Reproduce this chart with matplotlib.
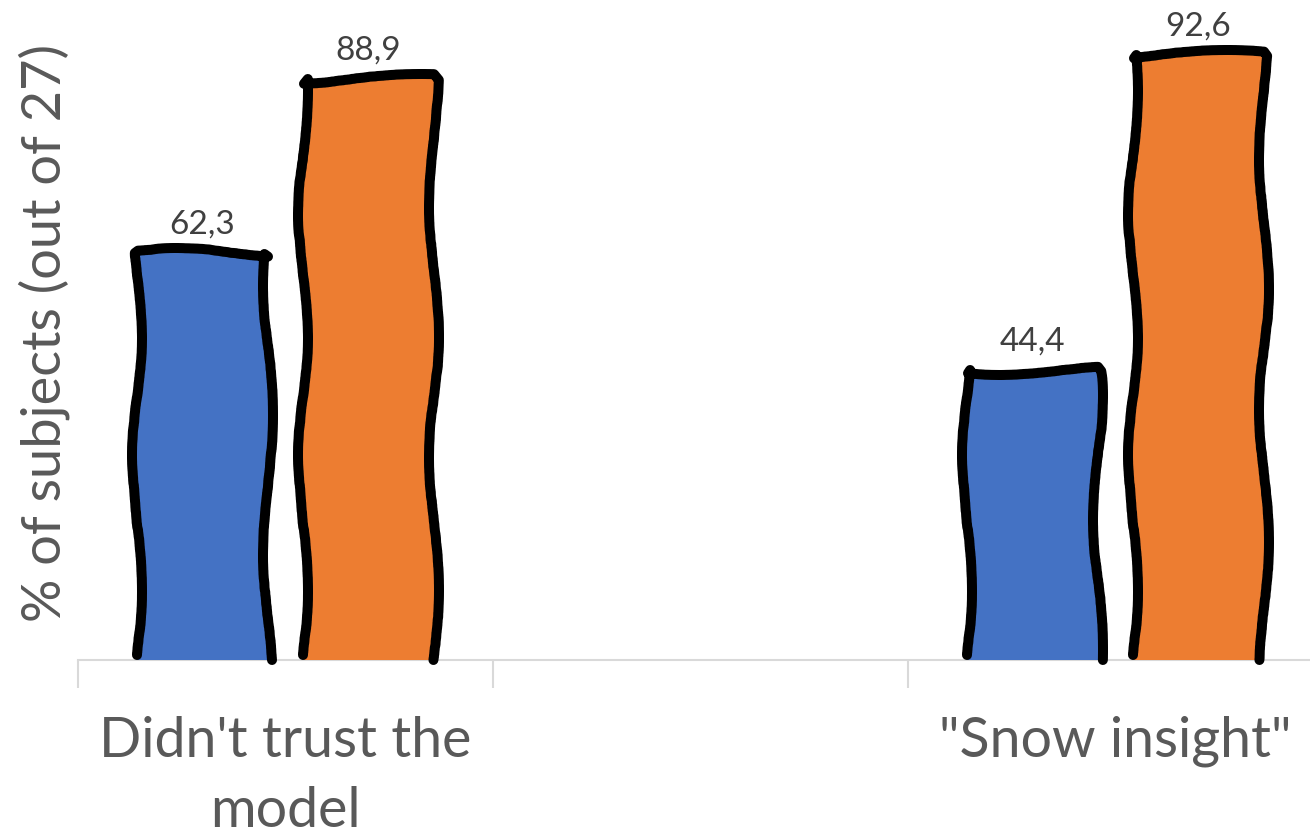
import matplotlib
matplotlib.use("Agg")
import matplotlib.pyplot as plt

plt.rcParams['font.family'] = ['Lato', 'DejaVu Sans']

# Data
categories = ["Didn't trust the\nmodel", "", "\"Snow insight\""]
series_a = [62.3, None, 44.4]
series_b = [88.9, None, 92.6]
y_label = "% of subjects (out of 27)"

BLUE = "#4472C4"
ORANGE = "#ED7D31"
GRID = "#D9D9D9"
TEXT = "#595959"
VALUE_TEXT = "#404040"

fig = plt.figure(figsize=(13.10, 8.36), dpi=100)
ax = fig.add_axes([78 / 1310, 176 / 836, 1245 / 1310, 653 / 836])

width = 0.315
offset = 0.2


def fmt(v):
    return f"{v:.1f}".replace(".", ",")


def sketch_outline(bar):
    # open, hand-drawn style outline: up the left edge, across the top, down the right
    x0 = bar.get_x()
    x1 = x0 + bar.get_width()
    h = bar.get_height()
    line, = ax.plot([x0, x0, x1, x1], [0.8, h, h, 0.0], color="black",
                    lw=7.2, solid_capstyle="round", solid_joinstyle="round",
                    zorder=4, clip_on=False)
    line.set_sketch_params(scale=5, length=320, randomness=3)


for i, (a, b) in enumerate(zip(series_a, series_b)):
    for val, dx, col in ((a, -offset, BLUE), (b, offset, ORANGE)):
        if val is None:
            continue
        bars = ax.bar(i + dx, val, width=width, color=col, zorder=3)
        sketch_outline(bars[0])
        ax.annotate(fmt(val), (i + dx, val), xytext=(0, 10),
                    textcoords="offset points", ha="center", va="bottom",
                    fontsize=24, color=VALUE_TEXT, zorder=5)

ax.set_xlim(-0.5, 2.5)
ax.set_ylim(0, 100)

ax.set_xticks([0, 1, 2])
ax.set_xticklabels(categories, fontsize=40, color=TEXT, linespacing=1.48)
ax.set_xticks([-0.5, 0.5, 1.5, 2.5], minor=True)
ax.tick_params(axis="x", which="major", length=0, pad=40)
ax.tick_params(axis="x", which="minor", length=20, width=1.5, color=GRID)
ax.set_yticks([])

for side in ("top", "right", "left"):
    ax.spines[side].set_visible(False)
ax.spines["bottom"].set_color(GRID)
ax.spines["bottom"].set_linewidth(1.5)

ax.set_ylabel(y_label, fontsize=39, color=TEXT)
ax.yaxis.set_label_coords(-8 / 1245, 0.5)

fig.savefig("out.png", dpi=100, facecolor="white")
